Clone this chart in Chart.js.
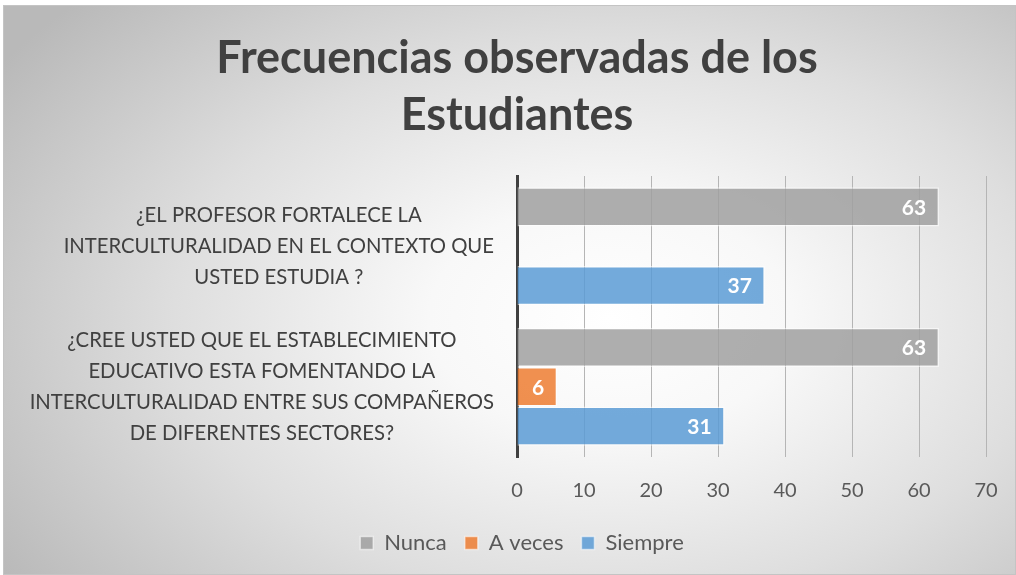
<!DOCTYPE html>
<html>
<head>
<meta charset="utf-8">
<script src="https://cdn.jsdelivr.net/npm/chart.js@4/dist/chart.umd.min.js"></script>
<style>
  html, body { margin: 0; padding: 0; background: #fff; }
  #frame {
    position: absolute; left: 3px; top: 5px; width: 1011px; height: 568px;
    border: 1px solid #c4c4c4;
    background: radial-gradient(ellipse 72% 82% at 60% 55%, #ffffff 0%, #f8f8f8 25%, #dedede 60%, #b9b9b9 100%);
  }
  canvas { position: absolute; left: 0; top: 0; }
</style>
</head>
<body>
<div id="frame"><canvas id="chart" width="1011" height="568"></canvas></div>
<script>
// datos
const chartTitle = ['Frecuencias observadas de los', 'Estudiantes'];
const categories = [
    ['¿EL PROFESOR FORTALECE LA', 'INTERCULTURALIDAD EN EL CONTEXTO QUE', 'USTED ESTUDIA ?'],
    ['¿CREE USTED QUE EL ESTABLECIMIENTO', 'EDUCATIVO ESTA FOMENTANDO LA', 'INTERCULTURALIDAD ENTRE SUS COMPAÑEROS', 'DE DIFERENTES SECTORES?']
];
const nunca = [63, 63];
const aVeces = [null, 6];
const siempre = [37, 31];
const xTicks = [0, 10, 20, 30, 40, 50, 60, 70];

const FONT = 'Lato, "Open Sans", sans-serif';

// titulo centrado sobre el area del grafico (como en Excel)
const titleDraw = {
    id: 'titleDraw',
    afterDraw(chart) {
        const ctx = chart.ctx;
        ctx.save();
        ctx.font = 'bold 45px ' + FONT;
        ctx.fillStyle = '#404040';
        ctx.textAlign = 'center';
        ctx.textBaseline = 'middle';
        chartTitle.forEach((t, i) => ctx.fillText(t, 513, 52 + i * 57));
        ctx.restore();
    }
};

// la leyenda va centrada en todo el ancho, no solo hasta el padding derecho
const legendShift = {
    id: 'legendShift',
    afterLayout(chart) {
        const lg = chart.legend;
        lg.left += 27;
        lg.right += 27;
    }
};

// etiquetas de categoria centradas por bloque y alineadas a la derecha
const categoryLabels = {
    id: 'categoryLabels',
    afterDraw(chart) {
        const ctx = chart.ctx;
        const yScale = chart.scales.y;
        const right = yScale.right - 23;
        const lineH = 31;
        ctx.save();
        ctx.font = '20.3px ' + FONT;
        ctx.fillStyle = '#404040';
        ctx.textAlign = 'center';
        ctx.textBaseline = 'middle';
        categories.forEach((lines, i) => {
            const cy = yScale.getPixelForTick(i);
            const w = Math.max(...lines.map(l => ctx.measureText(l).width));
            const cx = right - w / 2;
            const y0 = cy - (lines.length - 1) * lineH / 2;
            lines.forEach((l, j) => ctx.fillText(l, cx, y0 + j * lineH));
        });
        ctx.restore();
    }
};

// valores dentro del extremo de cada barra
const valueLabels = {
    id: 'valueLabels',
    afterDatasetsDraw(chart) {
        const ctx = chart.ctx;
        ctx.save();
        ctx.font = 'bold 21px ' + FONT;
        ctx.fillStyle = '#ffffff';
        ctx.textAlign = 'right';
        ctx.textBaseline = 'middle';
        chart.data.datasets.forEach((ds, di) => {
            chart.getDatasetMeta(di).data.forEach((bar, i) => {
                const v = ds.data[i];
                if (v == null) return;
                ctx.fillText(String(v), bar.x - 13, bar.y + 1);
            });
        });
        ctx.restore();
    }
};

new Chart(document.getElementById('chart'), {
    type: 'bar',
    data: {
        labels: categories,
        datasets: [
            { label: 'Nunca', data: nunca, backgroundColor: 'rgba(160,160,160,0.85)', borderColor: 'rgba(255,255,255,0.55)', borderWidth: 1.5 },
            { label: 'A veces', data: aVeces, backgroundColor: 'rgba(237,125,49,0.85)', borderColor: 'rgba(255,255,255,0.55)', borderWidth: 1.5 },
            { label: 'Siempre', data: siempre, backgroundColor: 'rgba(91,155,213,0.85)', borderColor: 'rgba(255,255,255,0.55)', borderWidth: 1.5 }
        ]
    },
    options: {
        indexAxis: 'y',
        responsive: false,
        animation: false,
        devicePixelRatio: 1,
        categoryPercentage: 0.84,
        barPercentage: 1,
        layout: { padding: { top: 170, right: 29, bottom: 10, left: 0 } },
        scales: {
            x: {
                min: 0,
                max: 70,
                afterBuildTicks: scale => { scale.ticks = xTicks.map(v => ({ value: v })); },
                afterFit: scale => {
                    scale.height = 57;
                    scale.paddingLeft = 0;
                    scale.paddingRight = 0;
                },
                grid: { color: '#b5b5b5', lineWidth: 1, drawTicks: false },
                border: { display: false },
                ticks: { padding: 22, color: '#595959', font: { family: FONT, size: 20 } }
            },
            y: {
                afterFit: scale => { scale.width = 513; },
                grid: { display: false },
                border: { color: '#404040', width: 3 },
                ticks: { display: false }
            }
        },
        plugins: {
            title: { display: false },
            legend: {
                position: 'bottom',
                labels: {
                    boxWidth: 13,
                    boxHeight: 13,
                    padding: 18,
                    color: '#595959',
                    font: { family: FONT, size: 22 }
                }
            },
            tooltip: { enabled: false }
        }
    },
    plugins: [titleDraw, legendShift, categoryLabels, valueLabels]
});
</script>
</body>
</html>
